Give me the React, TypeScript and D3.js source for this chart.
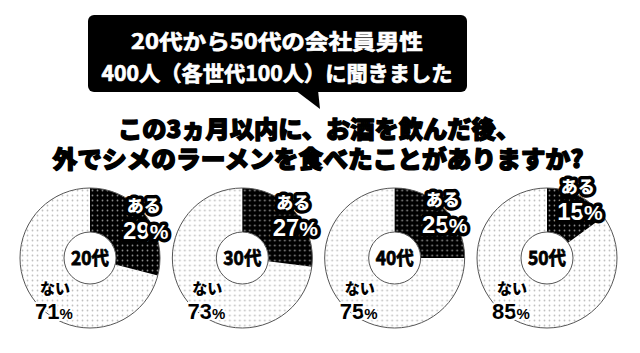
import React from "react";
import * as d3 from "d3";

const ages = ["20代", "30代", "40代", "50代"];
const yesValues = [29, 27, 25, 15];
const noValues = [71, 73, 75, 85];
const yesLabel = "ある";
const noLabel = "ない";
const calloutLines = ["20代から50代の会社員男性", "400人（各世代100人）に聞きました"];
const titleLines = ["この3ヵ月以内に、お酒を飲んだ後、", "外でシメのラーメンを食べたことがありますか?"];

const W = 640;
const H = 353;
const FONT = "'Noto Sans CJK JP', 'Noto Sans', sans-serif";
const NUMFONT = "'Liberation Sans', Arial, sans-serif";

export default function App() {
  const x = d3.scalePoint<string>().domain(ages).range([90, 547]);
  const cy = 258;
  const R = 70;
  const r0 = 26;
  const arc = d3.arc<d3.PieArcDatum<number>>().innerRadius(r0).outerRadius(R);
  const pie = d3.pie<number>().sort(null).startAngle(0).endAngle(2 * Math.PI);

  return (
    <svg width={W} height={H} style={{ position: "absolute", left: 0, top: 0, background: "#fff" }} fontFamily={FONT}>
      <defs>
        <pattern id="dotLight" width={5} height={5} patternUnits="userSpaceOnUse">
          <rect width={5} height={5} fill="#fff" />
          <circle cx={2.5} cy={2.5} r={0.9} fill="#c0c0c0" />
        </pattern>
        <pattern id="dotDark" width={5} height={5} patternUnits="userSpaceOnUse">
          <rect width={5} height={5} fill="#000" />
          <circle cx={2.5} cy={2.5} r={0.9} fill="#8a8a8a" />
        </pattern>
      </defs>

      {/* callout */}
      <rect x={88} y={15} width={379} height={77} rx={6} fill="#000" />
      <path d="M295,90 L318,90 L320,109 Z" fill="#000" />
      <g fill="#fff" stroke="#fff" strokeWidth={0.7} fontWeight={700} fontSize={21}>
        <text x={277} y={49} textAnchor="middle" textLength={292} lengthAdjust="spacingAndGlyphs">{calloutLines[0]}</text>
        <text x={277} y={81} textAnchor="middle" textLength={351} lengthAdjust="spacingAndGlyphs">{calloutLines[1]}</text>
      </g>

      {/* title */}
      <g fill="#000" stroke="#000" strokeWidth={1.4} strokeLinejoin="round" fontWeight={900} fontSize={24}>
        <text x={319} y={138} textAnchor="middle" textLength={402} lengthAdjust="spacingAndGlyphs">{titleLines[0]}</text>
        <text x={318} y={168} textAnchor="middle" textLength={531} lengthAdjust="spacingAndGlyphs">{titleLines[1]}</text>
      </g>

      {ages.map((age, i) => {
        const cx = x(age) as number;
        const arcs = pie([yesValues[i], noValues[i]]);
        const yes = arcs[0];
        const mid = (yes.startAngle + yes.endAngle) / 2;
        const lr = 68;
        const lx = cx + lr * Math.sin(mid);
        const ly = cy - lr * Math.cos(mid);
        return (
          <g key={age}>
            <g transform={`translate(${cx},${cy})`}>
              <path d={arc(arcs[1]) as string} fill="url(#dotLight)" />
              <path d={arc(arcs[0]) as string} fill="url(#dotDark)" />
              <circle r={R} fill="none" stroke="#555" strokeWidth={1} />
              <circle r={r0} fill="#fff" stroke="#555" strokeWidth={1} />
              <text y={7} textAnchor="middle" fontWeight={700} fontSize={19} fill="#000" stroke="#000" strokeWidth={0.8}
                textLength={38} lengthAdjust="spacingAndGlyphs">{age}</text>
            </g>
            {/* yes label: white text, black outline */}
            <g fontWeight={900} fill="#fff" stroke="#000" strokeLinejoin="round" style={{ paintOrder: "stroke" }}>
              <text x={lx} y={ly - 4} textAnchor="middle" fontSize={17} strokeWidth={7}>{yesLabel}</text>
              <text x={lx + 2} y={ly + 23} textAnchor="middle" strokeWidth={7} fontSize={24} fontFamily={NUMFONT} fontWeight={700}>
                {yesValues[i]}
                <tspan fontSize={21}>%</tspan>
              </text>
            </g>
            {/* no label: black text, white outline */}
            <g fontWeight={900} fill="#000" stroke="#fff" strokeLinejoin="round" style={{ paintOrder: "stroke" }}>
              <text x={cx - 35} y={cy + 36} textAnchor="middle" fontSize={15} strokeWidth={4}>{noLabel}</text>
              <text x={cx - 36} y={cy + 61} textAnchor="middle" strokeWidth={4} fontSize={22} fontFamily={NUMFONT} fontWeight={700}>
                {noValues[i]}
                <tspan fontSize={15}>%</tspan>
              </text>
            </g>
          </g>
        );
      })}
    </svg>
  );
}
